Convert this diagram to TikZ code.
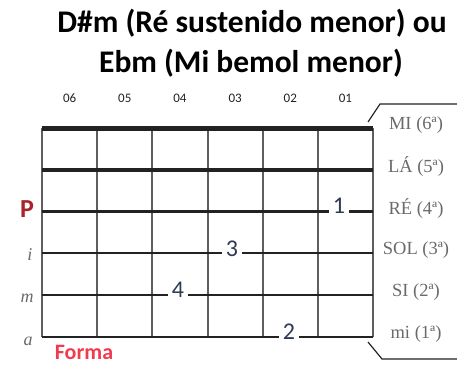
\documentclass[tikz,border=0pt]{standalone}
\usepackage{fontspec}
\setmainfont{Carlito}
\newfontfamily\serifrm{Liberation Serif}
\usetikzlibrary{positioning}

\definecolor{fretgray}{HTML}{5E5E5E}
\definecolor{strdark}{HTML}{222222}
\definecolor{fingerblue}{HTML}{2E3A55}
\definecolor{namegray}{HTML}{6A6A6A}
\definecolor{pred}{HTML}{A8242C}
\definecolor{formared}{HTML}{F23A4E}

\begin{document}
\begin{tikzpicture}[x=1pt, y=-1pt,
  finger/.style={fill=white, inner xsep=4pt, inner ysep=1pt, text=fingerblue,
    font=\fontsize{24}{24}\selectfont},
  stringname/.style={text=namegray, font=\serifrm\fontsize{18.5}{18.5}\selectfont},
  hand/.style={text=namegray, font=\serifrm\itshape\fontsize{18}{18}\selectfont},
  fretnum/.style={text=strdark, font=\fontsize{13}{13}\selectfont}]

  \useasboundingbox (0,0) rectangle (457,364);

  % 标题
  \node[anchor=base, font=\bfseries\fontsize{31.5}{31.5}\selectfont] (title1) at (252,32)
    {D\#m (Ré sustenido menor) ou};
  \node[anchor=base, font=\bfseries\fontsize{31.5}{31.5}\selectfont] (title2) at (251,72)
    {Ebm (Mi bemol menor)};

  % 品格编号
  \foreach \n [count=\i from 0] in {06,05,04,03,02,01}
    \node[fretnum] (fn\i) at (69.6+55.17*\i,98) {\n};

  % 品丝 (竖线)
  \foreach \i in {0,...,6}
    \draw[fretgray, line width=2pt] (42+55.17*\i,128) -- (42+55.17*\i,337);

  % 琴弦 (横线, 上面两根较粗)
  \foreach \j/\w in {0/5pt,1/3.5pt,2/2.5pt,3/2pt,4/2pt,5/2pt}
    \draw[strdark, line width=\w] (42,128+41.8*\j) -- (373,128+41.8*\j);

  % 弦名
  \foreach \s [count=\j from 0] in {MI (6ª),LÁ (5ª),RÉ (4ª),SOL (3ª),SI (2ª),mi (1ª)}
    \node[stringname] (sn\j) at (416,125+41.8*\j) {\s};

  % 右侧括线
  \draw[strdark, line width=1.2pt] (368,122) -- (380,104) -- (457,104);
  \draw[strdark, line width=1.2pt] (368,342) -- (382,359) -- (457,359);

  % 手指
  \node[finger] (f1) at (339,206) {1};
  \node[finger] (f3) at (232,249) {3};
  \node[finger] (f4) at (178,290) {4};
  \node[finger] (f2) at (289,332) {2};

  % 右手指法
  \node[text=pred, font=\bfseries\fontsize{26}{26}\selectfont] (P) at (27,209) {P};
  \node[hand] (hi) at (30,255) {i};
  \node[hand] (hm) at (27,298) {m};
  \node[hand] (ha) at (28,341) {a};

  % 形状
  \node[text=formared, font=\bfseries\fontsize{22}{22}\selectfont] (forma) at (84,352) {Forma};

\end{tikzpicture}
\end{document}
